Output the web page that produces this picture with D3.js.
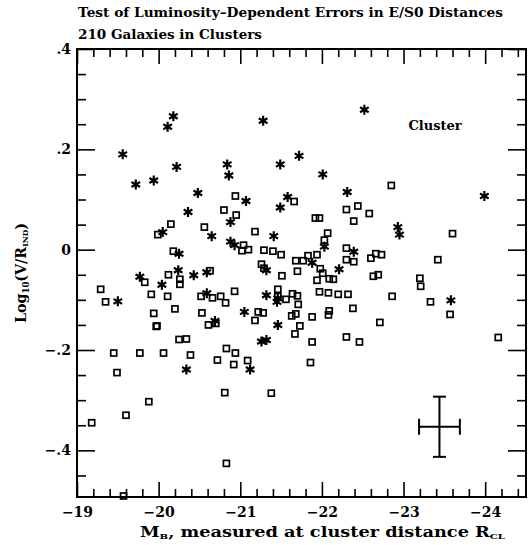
<!DOCTYPE html>
<html><head><meta charset="utf-8">
<script src="https://cdn.jsdelivr.net/npm/d3@7"></script>
<style>body{margin:0;background:#fff}svg text{font-family:"DejaVu Serif",serif;font-weight:bold;fill:#000}</style>
</head><body>
<svg id="c" width="531" height="545"></svg>
<script>
// ---- data ----
const starMB = [-20.18,-20.11,-21.28,-19.56,-20.22,-20.84,-20.86,-21.49,-21.72,-19.72,-19.94,-20.48,-21.07,-21.58,-21.49,-20.36,-20.88,-20.05,-20.65,-21.41,-20.88,-20.93,-20.25,-20.24,-19.77,-20.43,-20.59,-21.32,-22.52,-22.01,-22.31,-23.99,-22.93,-22.95,-22.03,-22.39,-21.88,-22.21,-20.04,-20.59,-21.32,-21.45,-21.46,-19.50,-21.05,-20.69,-21.46,-21.26,-21.32,-20.34,-21.12,-23.58];
const starLogV = [0.266,0.245,0.257,0.190,0.165,0.170,0.148,0.170,0.187,0.130,0.138,0.113,0.097,0.105,0.084,0.075,0.055,0.035,0.027,0.027,0.016,0.009,-0.008,-0.041,-0.054,-0.051,-0.045,-0.041,0.279,0.150,0.115,0.107,0.045,0.030,0.006,-0.004,-0.026,-0.039,-0.070,-0.087,-0.091,-0.104,-0.097,-0.103,-0.124,-0.142,-0.150,-0.183,-0.180,-0.239,-0.239,-0.101];
const squareMB = [-20.94,-21.66,-20.80,-20.95,-20.15,-19.99,-20.56,-21.18,-20.18,-21.04,-21.02,-21.10,-21.29,-21.40,-21.50,-21.68,-21.70,-21.26,-21.29,-21.51,-20.12,-20.63,-20.26,-20.26,-19.83,-22.30,-22.44,-22.58,-22.39,-21.92,-21.97,-22.07,-22.03,-22.30,-22.30,-22.39,-22.60,-22.66,-22.73,-21.77,-21.83,-21.94,-21.98,-22.01,-21.94,-22.09,-22.14,-22.63,-22.69,-23.20,-23.21,-22.85,-23.60,-23.42,-22.86,-23.33,-23.57,-21.97,-22.08,-22.20,-22.32,-21.46,-21.46,-21.56,-21.64,-21.70,-21.71,-21.63,-21.68,-21.88,-22.09,-22.08,-22.38,-22.71,-21.73,-21.67,-21.88,-22.30,-22.46,-24.16,-21.86,-21.28,-21.22,-21.18,-19.91,-20.11,-20.52,-20.66,-20.76,-20.82,-20.93,-19.94,-20.20,-20.53,-20.61,-20.70,-19.98,-19.97,-20.25,-20.34,-19.45,-19.77,-20.06,-20.39,-20.83,-20.94,-20.72,-20.92,-21.09,-19.49,-20.81,-21.38,-19.88,-19.60,-19.18,-20.83,-19.57,-19.29,-19.35];
const squareLogV = [0.107,0.096,0.079,0.069,0.051,0.030,0.045,0.036,-0.003,0.009,-0.002,0.000,-0.001,-0.003,-0.010,-0.022,-0.043,-0.029,-0.037,-0.052,-0.050,-0.042,-0.059,-0.069,-0.065,0.080,0.087,0.072,0.057,0.063,0.063,0.033,0.019,0.003,-0.020,-0.024,-0.017,-0.008,-0.010,-0.022,-0.012,-0.010,-0.038,-0.047,-0.061,-0.058,-0.059,-0.053,-0.050,-0.057,-0.073,0.128,0.032,-0.020,-0.093,-0.104,-0.129,-0.084,-0.086,-0.089,-0.089,-0.079,-0.093,-0.099,-0.088,-0.092,-0.109,-0.132,-0.128,-0.134,-0.122,-0.130,-0.117,-0.145,-0.152,-0.168,-0.184,-0.174,-0.184,-0.175,-0.225,-0.126,-0.124,-0.141,-0.089,-0.093,-0.093,-0.096,-0.093,-0.106,-0.083,-0.127,-0.118,-0.126,-0.150,-0.147,-0.152,-0.153,-0.179,-0.178,-0.206,-0.206,-0.206,-0.210,-0.197,-0.206,-0.220,-0.229,-0.221,-0.245,-0.285,-0.286,-0.303,-0.330,-0.345,-0.426,-0.491,-0.079,-0.104];
const errCenter = [-23.44, -0.353];
const errSize = [0.25, 0.06];
const xMajor = [-19,-20,-21,-22,-23,-24];
const xLabels = ["−19","−20","−21","−22","−23","−24"];
const yMajor = [0.4,0.2,0,-0.2,-0.4];
const yLabels = [".4",".2","0","−.2","−.4"];
const titleLines = ["Test of Luminosity–Dependent Errors in E/S0 Distances","210 Galaxies in Clusters"];
const legendText = "Cluster";

// ---- chart ----
const svg = d3.select("#c");
const L=77,R=526,T=49,B=497;
const x = d3.scaleLinear().domain([-19,-24.5]).range([L,R]);
const y = d3.scaleLinear().domain([-0.493,0.4]).range([B,T]);

const xMinor = d3.range(0,28).map(i=>-19-0.2*i).filter(v=>Math.abs(v-Math.round(v))>1e-6);
const yMinor = d3.range(-0.45,0.4001,0.05).filter(v=>Math.abs(v/0.2-Math.round(v/0.2))>1e-6);

function styleAxis(g){ g.select(".domain").remove(); g.selectAll("line").attr("stroke","#000").attr("stroke-width",1.6); g.selectAll("text").attr("font-size",14).attr("font-family","DejaVu Serif").attr("font-weight","bold"); }

svg.append("g").attr("transform",`translate(0,${B})`).call(d3.axisBottom(x).tickValues(xMajor).tickSize(-15).tickPadding(10).tickFormat((d,i)=>xLabels[i])).call(styleAxis);
svg.append("g").attr("transform",`translate(0,${B})`).call(d3.axisBottom(x).tickValues(xMinor).tickSize(-8).tickFormat("")).call(styleAxis);
svg.append("g").attr("transform",`translate(0,${T})`).call(d3.axisTop(x).tickValues(xMajor).tickSize(-15).tickFormat("")).call(styleAxis);
svg.append("g").attr("transform",`translate(0,${T})`).call(d3.axisTop(x).tickValues(xMinor).tickSize(-8).tickFormat("")).call(styleAxis);
svg.append("g").attr("transform",`translate(${L},0)`).call(d3.axisLeft(y).tickValues(yMajor).tickSize(-18).tickPadding(6).tickFormat((d,i)=>yLabels[i])).call(styleAxis);
svg.append("g").attr("transform",`translate(${L},0)`).call(d3.axisLeft(y).tickValues(yMinor).tickSize(-9).tickFormat("")).call(styleAxis);
svg.append("g").attr("transform",`translate(${R},0)`).call(d3.axisRight(y).tickValues(yMajor).tickSize(-18).tickFormat("")).call(styleAxis);
svg.append("g").attr("transform",`translate(${R},0)`).call(d3.axisRight(y).tickValues(yMinor).tickSize(-9).tickFormat("")).call(styleAxis);

svg.append("rect").attr("x",L).attr("y",T).attr("width",R-L).attr("height",B-T).attr("fill","none").attr("stroke","#000").attr("stroke-width",2);

// squares
svg.append("g").selectAll("rect").data(squareMB.map((v,i)=>[v,squareLogV[i]])).join("rect")
  .attr("x",d=>x(d[0])-3).attr("y",d=>y(d[1])-3).attr("width",6).attr("height",6)
  .attr("fill","none").attr("stroke","#000").attr("stroke-width",1.7);

// stars (6-armed asterisk)
const sr=5;
const starPath = d3.range(3).map(k=>{const a=Math.PI/2+k*Math.PI/3;const dx=sr*Math.cos(a),dy=sr*Math.sin(a);return `M${-dx},${-dy}L${dx},${dy}`;}).join("");
svg.append("g").selectAll("path").data(starMB.map((v,i)=>[v,starLogV[i]])).join("path")
  .attr("transform",d=>`translate(${x(d[0])},${y(d[1])})`).attr("d",starPath)
  .attr("stroke","#000").attr("stroke-width",2.2).attr("fill","none");

// error cross
const eg = svg.append("g").attr("stroke","#000").attr("stroke-width",2);
const cx=x(errCenter[0]), cy=y(errCenter[1]);
const x1=x(errCenter[0]+errSize[0]), x2=x(errCenter[0]-errSize[0]);
const y1=y(errCenter[1]+errSize[1]), y2=y(errCenter[1]-errSize[1]);
eg.append("line").attr("x1",x1).attr("x2",x2).attr("y1",cy).attr("y2",cy);
eg.append("line").attr("x1",cx).attr("x2",cx).attr("y1",y1).attr("y2",y2);
eg.append("line").attr("x1",x1).attr("x2",x1).attr("y1",cy-8).attr("y2",cy+8);
eg.append("line").attr("x1",x2).attr("x2",x2).attr("y1",cy-8).attr("y2",cy+8);
eg.append("line").attr("x1",cx-6.5).attr("x2",cx+6.5).attr("y1",y1).attr("y2",y1);
eg.append("line").attr("x1",cx-6.5).attr("x2",cx+6.5).attr("y1",y2).attr("y2",y2);

// titles
svg.append("text").attr("x",78).attr("y",17).attr("font-size",13).attr("textLength",425).attr("lengthAdjust","spacingAndGlyphs").text(titleLines[0]);
svg.append("text").attr("x",78).attr("y",39).attr("font-size",13).attr("textLength",184).attr("lengthAdjust","spacingAndGlyphs").text(titleLines[1]);
svg.append("text").attr("x",435).attr("y",130).attr("font-size",13).attr("text-anchor","middle").text(legendText);

// x title
const xt = svg.append("text").attr("x",140).attr("y",537).attr("font-size",14).attr("textLength",365).attr("lengthAdjust","spacingAndGlyphs");
xt.append("tspan").text("M");
xt.append("tspan").attr("font-size",8).attr("dy",2).text("B");
xt.append("tspan").attr("dy",-2).text(", measured at cluster distance R");
xt.append("tspan").attr("font-size",8).attr("dy",2).text("CL");

// y title
const yt = svg.append("text").attr("transform","translate(26,323) rotate(-90)").attr("font-size",15).attr("textLength",100).attr("lengthAdjust","spacingAndGlyphs");
yt.append("tspan").text("Log");
yt.append("tspan").attr("font-size",9).attr("dy",3).text("10");
yt.append("tspan").attr("dy",-3).text("(V/R");
yt.append("tspan").attr("font-size",8).attr("dy",2).text("IND");
yt.append("tspan").attr("dy",-2).text(")");
</script>
</body></html>
